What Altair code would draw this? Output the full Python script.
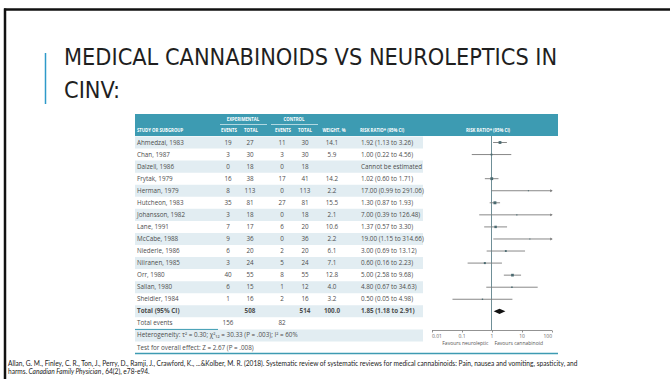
import altair as alt
import pandas as pd

# ---------------- data ----------------
studies = ["Ahmedzai, 1983", "Chan, 1987", "Dalzell, 1986", "Frytak, 1979", "Herman, 1979",
           "Hutcheon, 1983", "Johansson, 1982", "Lane, 1991", "McCabe, 1988", "Niederle, 1986",
           "Niiranen, 1985", "Orr, 1980", "Sallan, 1980", "Sheidler, 1984"]
exp_events = [19, 3, 0, 16, 8, 35, 3, 7, 9, 6, 3, 40, 6, 1]
exp_total = [27, 30, 18, 38, 113, 81, 18, 17, 36, 20, 24, 55, 15, 16]
ctrl_events = [11, 3, 0, 17, 0, 27, 0, 6, 0, 2, 5, 8, 1, 2]
ctrl_total = [30, 30, 18, 41, 113, 81, 18, 20, 36, 20, 24, 55, 12, 16]
weights = [14.1, 5.9, None, 14.2, 2.2, 15.5, 2.1, 10.6, 2.2, 6.1, 7.1, 12.8, 4.0, 3.2]
rr = [1.92, 1.00, None, 1.02, 17.00, 1.30, 7.00, 1.37, 19.00, 3.00, 0.60, 5.00, 4.80, 0.50]
rr_lo = [1.13, 0.22, None, 0.60, 0.99, 0.87, 0.39, 0.57, 1.15, 0.69, 0.16, 2.58, 0.67, 0.05]
rr_hi = [3.26, 4.56, None, 1.71, 291.06, 1.93, 126.48, 3.30, 314.66, 13.12, 2.23, 9.68, 34.63, 4.98]

total_label = "Total (95% CI)"
total_exp_n, total_ctrl_n = 508, 514
total_weight = 100.0
total_rr, total_lo, total_hi = 1.85, 1.18, 2.91
events_label = "Total events"
total_exp_events, total_ctrl_events = 156, 82
heterogeneity = "Heterogeneity: \u03c4\u00b2 = 0.30; \u03c7\u00b2\u2081\u2082 = 30.33 (P = .003); I\u00b2 = 60%"
overall_test = "Test for overall effect: Z = 2.67 (P = .008)"

axis_ticks = [0.01, 0.1, 1, 10, 100]
title_lines = ["MEDICAL CANNABINOIDS VS NEUROLEPTICS IN", "CINV:"]
citation_1 = ("Allan, G. M., Finley, C. R., Ton, J., Perry, D., Ramji, J., Crawford, K., ...&Kolber, M. R. (2018). "
              "Systematic review of systematic reviews for medical cannabinoids: Pain, nausea and vomiting, spasticity, and")
citation_2a = "harms."
citation_2b = "Canadian Family Physician"
citation_2c = ", 64(2), e78-e94."

# ---------------- tables ----------------
def fmt_ci(r, l, h):
    if r is None:
        return "Cannot be estimated"
    return f"{r:.2f} ({l:.2f} to {h:.2f})"

rows = []
for i, s in enumerate(studies):
    rows.append(dict(row=i, study=s, ee=str(exp_events[i]), et=str(exp_total[i]),
                     ce=str(ctrl_events[i]), ct=str(ctrl_total[i]),
                     wt="" if weights[i] is None else f"{weights[i]:.1f}",
                     rrt=fmt_ci(rr[i], rr_lo[i], rr_hi[i]), bold=False))
n = len(studies)
rows.append(dict(row=n, study=total_label, ee="", et=str(total_exp_n), ce="", ct=str(total_ctrl_n),
                 wt=f"{total_weight:.1f}", rrt=fmt_ci(total_rr, total_lo, total_hi), bold=True))
rows.append(dict(row=n + 1, study=events_label, ee=str(total_exp_events), et="", ce=str(total_ctrl_events),
                 ct="", wt="", rrt="", bold=False))
rows.append(dict(row=n + 2, study=heterogeneity, ee="", et="", ce="", ct="", wt="", rrt="", bold=False))
rows.append(dict(row=n + 3, study=overall_test, ee="", et="", ce="", ct="", wt="", rrt="", bold=False))
table = pd.DataFrame(rows)

forest = pd.DataFrame([
    dict(row=i, rr=rr[i], lo=rr_lo[i], hi=min(rr_hi[i], 100), clipped=rr_hi[i] > 100, w=weights[i])
    for i in range(n) if rr[i] is not None
])
diamond = pd.DataFrame(dict(x=[total_lo, total_rr, total_hi],
                            top=[n, n - 0.22, n], bot=[n, n + 0.22, n]))
shade = pd.DataFrame(dict(y0=[r - 0.5 for r in range(0, n + 4, 2)],
                          y1=[r + 0.5 for r in range(0, n + 4, 2)]))

# ---------------- style ----------------
TEAL = "#3d9bb2"
SHADE = "#e2edf2"
TXT = "#4d4d4d"
FONT = "Open Sans"
FS = 6.3

ROWS = alt.Scale(domain=[0, 17], range=[142.5, 347.5])
XLOG = alt.Scale(type="log", domain=[0.01, 100], range=[431.5, 551.5])
XAXIS = alt.Axis(values=axis_ticks, offset=-49, labelExpr="toString(datum.value)", title=None,
                 grid=False, domainColor="#777", tickColor="#777", tickSize=2, labelFontSize=5,
                 labelColor="#666", labelFont=FONT, labelPadding=1, domainWidth=0.8, tickWidth=0.8)


def yrow(f="row"):
    return alt.Y(f"{f}:Q", scale=ROWS, axis=None)


def xlog(f):
    return alt.X(f"{f}:Q", scale=XLOG, axis=XAXIS)


def col(field, x, align="center", bold=False):
    return (alt.Chart(table)
            .transform_filter(alt.datum.bold == bold)
            .mark_text(align=align, baseline="middle", font=FONT, fontSize=FS, color=TXT,
                       fontWeight="bold" if bold else "normal")
            .encode(x=alt.value(x), y=yrow(), text=f"{field}:N"))


layers = []

# slide frame
layers.append(alt.Chart(pd.DataFrame({"a": [0]})).mark_rule(color="#111", strokeWidth=2.5)
              .encode(x=alt.value(4), x2=alt.value(670), y=alt.value(9.5)))
layers.append(alt.Chart(pd.DataFrame({"a": [0]})).mark_rule(color="#111", strokeWidth=2.5)
              .encode(x=alt.value(5), y=alt.value(8.5), y2=alt.value(379)))
# accent bar
layers.append(alt.Chart(pd.DataFrame({"a": [0]})).mark_rule(color="#2e9ac9", strokeWidth=1.5)
              .encode(x=alt.value(45.5), y=alt.value(53), y2=alt.value(104)))
# title
layers.append(alt.Chart(pd.DataFrame({"t": [title_lines]}))
              .mark_text(align="left", baseline="alphabetic", font="Liberation Sans Narrow, DejaVu Sans Condensed",
                         fontSize=23.3, lineHeight=33, color="#1f1f1f")
              .encode(x=alt.value(64), y=alt.value(65), text="t"))

# header band
layers.append(alt.Chart(pd.DataFrame({"a": [0]})).mark_rect(color=TEAL)
              .encode(x=alt.value(135), x2=alt.value(558), y=alt.value(114), y2=alt.value(136)))
for lbl, xc, x0, x1 in [("EXPERIMENTAL", 243, 220, 267), ("CONTROL", 294, 271, 318)]:
    layers.append(alt.Chart(pd.DataFrame({"t": [lbl]}))
                  .mark_text(align="center", baseline="middle", font=FONT, fontSize=4.3, fontWeight="bold",
                             color="white")
                  .encode(x=alt.value(xc), y=alt.value(120), text="t"))
    layers.append(alt.Chart(pd.DataFrame({"a": [0]})).mark_rule(color="#cfe7ee", strokeWidth=0.8)
                  .encode(x=alt.value(x0), x2=alt.value(x1), y=alt.value(124.5)))
hdr2 = [("STUDY OR SUBGROUP", 137, "left"), ("EVENTS", 229, "center"), ("TOTAL", 251, "center"),
        ("EVENTS", 283, "center"), ("TOTAL", 305, "center"), ("WEIGHT, %", 334, "center"),
        ("RISK RATIO* (95% CI)", 360, "left"), ("RISK RATIO* (95% CI)", 488, "center")]
for lbl, xc, al in hdr2:
    layers.append(alt.Chart(pd.DataFrame({"t": [lbl]}))
                  .mark_text(align=al, baseline="middle", font=FONT, fontSize=4.3, fontWeight="bold",
                             color="white")
                  .encode(x=alt.value(xc), y=alt.value(130.5), text="t"))

# shaded rows
layers.append(alt.Chart(shade).mark_rect(color=SHADE)
              .encode(x=alt.value(135), x2=alt.value(423), y=alt.Y("y0:Q", scale=ROWS, axis=None), y2="y1:Q"))

# table text
layers += [col("study", 137, "left"), col("ee", 228), col("et", 250), col("ce", 282), col("ct", 305),
           col("wt", 332), col("rrt", 361, "left")]
layers += [col("study", 137, "left", True), col("et", 250, bold=True), col("ct", 305, bold=True),
           col("wt", 332, bold=True), col("rrt", 361, "left", True)]

# table lines
layers.append(alt.Chart(pd.DataFrame({"a": [0]})).mark_rule(color=TEAL, strokeWidth=1)
              .encode(x=alt.value(135), x2=alt.value(218), y=alt.Y(datum=n + 1.5, scale=ROWS, axis=None)))
layers.append(alt.Chart(pd.DataFrame({"a": [0]})).mark_rule(color=TEAL, strokeWidth=1.5)
              .encode(x=alt.value(135), x2=alt.value(558), y=alt.Y(datum=n + 3.5, scale=ROWS, axis=None)))

# forest plot
layers.append(alt.Chart(pd.DataFrame({"a": [0]})).mark_rule(color="#6f8f97", strokeWidth=1)
              .encode(x=alt.X(datum=1, scale=XLOG, axis=XAXIS), y=alt.value(136), y2=alt.value(330)))
layers.append(alt.Chart(forest).mark_rule(color="#7a7a7a", strokeWidth=0.9)
              .encode(x=xlog("lo"), x2="hi:Q", y=yrow()))
layers.append(alt.Chart(forest).mark_square(color="#4a6a70", opacity=1)
              .encode(x=xlog("rr"), y=yrow(),
                      size=alt.Size("w:Q", scale=alt.Scale(domain=[0, 16], range=[0, 9]), legend=None)))
layers.append(alt.Chart(forest).transform_filter(alt.datum.clipped)
              .mark_point(shape="triangle-right", filled=True, color="#7a7a7a", size=8, opacity=1)
              .encode(x=xlog("hi"), y=yrow()))
layers.append(alt.Chart(diamond).mark_area(color="#111", orient="vertical")
              .encode(x=xlog("x"), y=alt.Y("top:Q", scale=ROWS, axis=None), y2="bot:Q"))
for lbl, al, dx in [("Favours neuroleptic", "right", -3), ("Favours cannabinoid", "left", 3)]:
    layers.append(alt.Chart(pd.DataFrame({"t": [lbl]}))
                  .mark_text(align=al, baseline="middle", font=FONT, fontSize=5, color="#555", dx=dx)
                  .encode(x=alt.X(datum=1, scale=XLOG, axis=XAXIS), y=alt.value(343), text="t"))

# citation
cit_font = "Lato"
CFS = 6.6
layers.append(alt.Chart(pd.DataFrame({"t": [citation_1]}))
              .mark_text(align="left", baseline="middle", font=cit_font, fontSize=CFS, color="#222")
              .encode(x=alt.value(8), y=alt.value(364), text="t"))
layers.append(alt.Chart(pd.DataFrame({"t": [citation_2a]}))
              .mark_text(align="left", baseline="middle", font=cit_font, fontSize=CFS, color="#222")
              .encode(x=alt.value(8), y=alt.value(371.5), text="t"))
layers.append(alt.Chart(pd.DataFrame({"t": [citation_2b]}))
              .mark_text(align="left", baseline="middle", font=cit_font, fontSize=CFS, color="#222",
                         fontStyle="italic")
              .encode(x=alt.value(28.5), y=alt.value(371.5), text="t"))
layers.append(alt.Chart(pd.DataFrame({"t": [citation_2c]}))
              .mark_text(align="left", baseline="middle", font=cit_font, fontSize=CFS, color="#222")
              .encode(x=alt.value(102), y=alt.value(371.5), text="t"))

chart = (alt.layer(*layers)
         .properties(width=670, height=379, autosize=alt.AutoSizeParams(type="none"), padding=0,
                     background="white")
         .configure_view(stroke=None))

chart.save("out.html", embed_options={"renderer": "svg", "actions": False})
